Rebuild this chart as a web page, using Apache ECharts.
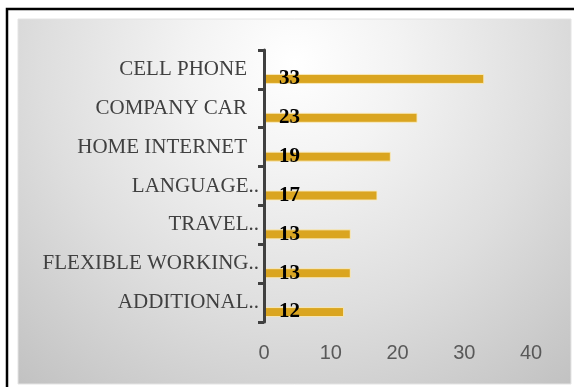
<!DOCTYPE html>
<html>
<head>
<meta charset="utf-8">
<script src="https://cdn.jsdelivr.net/npm/echarts@6/dist/echarts.min.js"></script>
<style>
  html, body { margin: 0; padding: 0; background: #ffffff; }
  #chart { width: 574px; height: 387px; }
</style>
</head>
<body>
<div id="chart"></div>
<script>
// Benefit categories, top to bottom
const categories = [
  'CELL PHONE',
  'COMPANY CAR',
  'HOME INTERNET',
  'LANGUAGE..',
  'TRAVEL..',
  'FLEXIBLE WORKING..',
  'ADDITIONAL..'
];
// Count for each category
const counts = [33, 23, 19, 17, 13, 13, 12];
// Value axis range and step
const axisMin = 0;
const axisMax = 40;
const axisStep = 10;

const chart = echarts.init(document.getElementById('chart'), null, { renderer: 'canvas' });

chart.setOption({
  animation: false,
  backgroundColor: '#ffffff',
  graphic: [
    {
      // shaded plot panel
      type: 'rect',
      z: -10,
      shape: { x: 18, y: 19, width: 553, height: 365 },
      style: {
        fill: new echarts.graphic.RadialGradient(0.5, 0.12, 1.15, [
          { offset: 0, color: '#ffffff' },
          { offset: 0.25, color: '#f3f3f3' },
          { offset: 0.6, color: '#dedede' },
          { offset: 1, color: '#c2c2c2' }
        ]),
        stroke: '#e4e4e4',
        lineWidth: 1
      }
    },
    {
      // outer frame
      type: 'rect',
      z: -5,
      shape: { x: 7, y: 9, width: 620, height: 420 },
      style: { fill: 'none', stroke: '#000000', lineWidth: 2.5 }
    }
  ],
  grid: { left: 264, top: 50, width: 267, height: 272, containLabel: false },
  xAxis: {
    type: 'value',
    min: axisMin,
    max: axisMax,
    interval: axisStep,
    axisLine: { show: false },
    axisTick: { show: false },
    splitLine: { show: false },
    axisLabel: {
      color: '#595959',
      fontFamily: 'Liberation Sans',
      fontSize: 20,
      margin: 21
    }
  },
  yAxis: {
    type: 'category',
    inverse: true,
    z: 5,
    data: categories,
    axisLine: { show: true, onZero: false, lineStyle: { color: '#404040', width: 3 } },
    axisTick: { show: true, length: 6, lineStyle: { color: '#404040', width: 3 } },
    axisLabel: {
      margin: 5,
      color: '#404040',
      fontFamily: 'Liberation Serif',
      fontSize: 21,
      formatter: function (v) {
        return v.endsWith('..') ? '{t|' + v + '}' : '{f|' + v + '}';
      },
      rich: {
        t: { color: '#404040', fontFamily: 'Liberation Serif', fontSize: 21 },
        f: { color: '#404040', fontFamily: 'Liberation Serif', fontSize: 21, padding: [0, 12, 0, 0] }
      }
    }
  },
  series: [
    {
      // empty companion series occupying the upper slot of each band
      type: 'bar',
      barWidth: 10,
      barGap: '90%',
      data: categories.map(() => '-'),
      silent: true
    },
    {
      type: 'bar',
      barWidth: 10,
      barGap: '90%',
      data: counts,
      itemStyle: {
        color: '#DAA520',
        borderColor: 'rgba(250,235,190,0.9)',
        borderWidth: 1
      },
      label: {
        show: true,
        position: 'insideLeft',
        distance: 15,
        color: '#000000',
        fontFamily: 'Liberation Serif',
        fontWeight: 'bold',
        fontSize: 21
      }
    }
  ]
});
</script>
</body>
</html>
